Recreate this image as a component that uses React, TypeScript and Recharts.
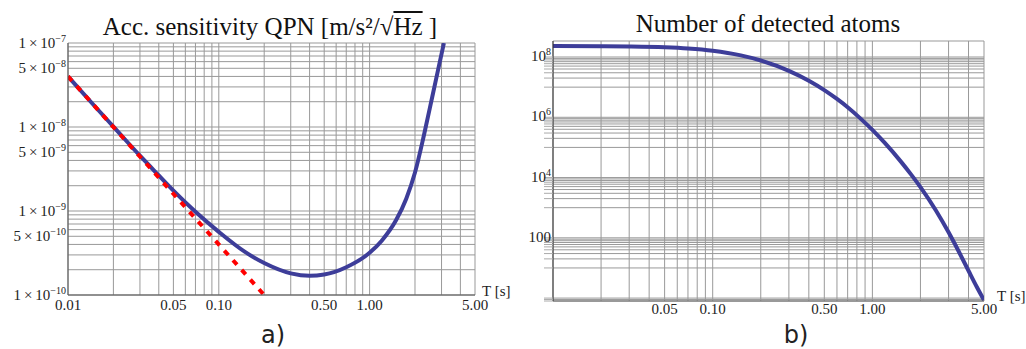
import { LineChart, Line, XAxis, YAxis, CartesianGrid } from 'recharts'

// two log-log panels: a) QPN sensitivity vs T, b) detected atoms vs T

const serif = '"Liberation Serif", "DejaVu Serif", serif'

const xTicks = [
  0.01, 0.02, 0.03, 0.04, 0.05, 0.06, 0.07, 0.08, 0.09,
  0.1, 0.2, 0.3, 0.4, 0.5, 0.6, 0.7, 0.8, 0.9,
  1, 2, 3, 4, 5,
]
const xLabelsA: [number, string][] = [[0.01, '0.01'], [0.05, '0.05'], [0.1, '0.10'], [0.5, '0.50'], [1, '1.00'], [5, '5.00']]
const xLabelsB: [number, string][] = [[0.05, '0.05'], [0.1, '0.10'], [0.5, '0.50'], [1, '1.00'], [5, '5.00']]

const sensTicks = [
  1e-10, 2e-10, 3e-10, 4e-10, 5e-10, 6e-10, 7e-10, 8e-10, 9e-10,
  1e-9, 2e-9, 3e-9, 4e-9, 5e-9, 6e-9, 7e-9, 8e-9, 9e-9,
  1e-8, 2e-8, 3e-8, 4e-8, 5e-8, 6e-8, 7e-8, 8e-8, 9e-8,
  1e-7,
]
const sensLabels: [number, string, string][] = [
  [1e-7, '1', '−7'], [5e-8, '5', '−8'], [1e-8, '1', '−8'], [5e-9, '5', '−9'],
  [1e-9, '1', '−9'], [5e-10, '5', '−10'], [1e-10, '1', '−10'],
]

const atomTicks = [
  0.8, 0.9, 1,
  10, 20, 30, 40, 50, 60, 70, 80, 90, 100,
  1000, 2000, 3000, 4000, 5000, 6000, 7000, 8000, 9000, 1e4,
  1e5, 2e5, 3e5, 4e5, 5e5, 6e5, 7e5, 8e5, 9e5, 1e6,
  1e7, 2e7, 3e7, 4e7, 5e7, 6e7, 7e7, 8e7, 9e7, 1e8,
]
const atomLabels: [number, string, string][] = [[1e8, '10', '8'], [1e6, '10', '6'], [1e4, '10', '4'], [100, '100', '']]

// blue curve, panel a
const sensT = [0.01, 0.015, 0.02, 0.03, 0.04, 0.05, 0.07, 0.1, 0.15, 0.2, 0.3, 0.4, 0.5, 0.7, 1, 1.2, 1.5, 1.75, 2, 2.3, 2.6, 2.85, 3.11]
const sensQpn = [4e-8, 1.78e-8, 1.01e-8, 4.55e-9, 2.65e-9, 1.75e-9, 9.8e-10, 5.65e-10, 3.24e-10, 2.4e-10, 1.81e-10, 1.69e-10, 1.75e-10, 2.14e-10, 3.18e-10, 4.4e-10, 7.8e-10, 1.4e-9, 2.87e-9, 8.2e-9, 2.26e-8, 4.85e-8, 1e-7]

// red dashed T^-2 asymptote
const slopeT = [0.01, 0.2]
const slopeQpn = [4e-8, 1e-10]

// panel b
const atomsT = [0.01, 0.02, 0.03, 0.05, 0.07, 0.1, 0.15, 0.2, 0.3, 0.4, 0.5, 0.6, 0.7, 0.85, 1, 1.2, 1.5, 1.75, 2, 2.5, 3, 3.5, 4, 4.5, 5]
const atomsN = [2.3e8, 2.26e8, 2.22e8, 2.09e8, 1.91e8, 1.61e8, 1.13e8, 7.67e7, 3.48e7, 1.63e7, 7.98e6, 4.05e6, 2.15e6, 8.7e5, 3.82e5, 1.38e5, 3.51e4, 1.25e4, 4810, 807, 152, 32.5, 8.07, 2.38, 0.855]

const sensData = sensT.map((t, i) => ({ t, v: sensQpn[i] }))
const slopeData = slopeT.map((t, i) => ({ t, v: slopeQpn[i] }))
const atomsData = atomsT.map((t, i) => ({ t, n: atomsN[i] }))

function xTick(labels: Map<number, string>, dy: number) {
  return (p: any) => {
    const s = labels.get(p.payload.value)
    if (!s) return <g />
    return (
      <text x={p.x} y={p.y + dy} textAnchor="middle" fontFamily={serif} fontSize={15} fill="#222">{s}</text>
    )
  }
}

function SensTick(p: any) {
  const lab = sensLabels.find(r => r[0] === p.payload.value)
  if (!lab) return <g />
  return (
    <text x={p.x - 2} y={p.y + 5} textAnchor="end" fontFamily={serif} fontSize={15} fill="#222">
      {lab[1]}{'\u2009×\u200910'}<tspan dy={-6} fontSize={10}>{lab[2]}</tspan>
    </text>
  )
}

function AtomTick(p: any) {
  const lab = atomLabels.find(r => r[0] === p.payload.value)
  return (
    <g>
      <line x1={p.x - 9} x2={p.x} y1={p.y} y2={p.y} stroke="#aaa" />
      {lab && (
        <text x={p.x - 2} y={p.y + 4} textAnchor="end" fontFamily={serif} fontSize={15} fill="#222">
          {lab[1]}{lab[2] && <tspan dy={-6} fontSize={10}>{lab[2]}</tspan>}
        </text>
      )}
    </g>
  )
}

const abs = (left: number, top: number, extra: any = {}) => ({ position: 'absolute' as const, left, top, lineHeight: 1, whiteSpace: 'nowrap' as const, ...extra })

export default function App() {
  return (
    <div style={{ position: 'absolute', left: 0, top: 0, width: 1026, height: 349, background: '#fff', overflow: 'hidden' }}>
      <div style={abs(0, 0)}>
        <LineChart width={500} height={349} margin={{ top: 43, right: 25, bottom: 24, left: 0 }}>
          <CartesianGrid stroke="#999" />
          <XAxis dataKey="t" type="number" scale="log" domain={[0.01, 5]} allowDataOverflow ticks={xTicks} interval={0}
            height={30} tickLine={false} tickSize={0} tickMargin={0} axisLine={{ stroke: '#555' }} tick={xTick(new Map(xLabelsA), 15)} />
          <YAxis type="number" scale="log" domain={[1e-10, 1e-7]} allowDataOverflow ticks={sensTicks} interval={0}
            width={68} tickLine={false} tickSize={0} tickMargin={0} axisLine={{ stroke: '#555' }} tick={SensTick} />
          <Line data={sensData} dataKey="v" type="monotone" stroke="#3d3d99" strokeWidth={4} dot={false} isAnimationActive={false} />
          <Line data={slopeData} dataKey="v" type="linear" stroke="#ff0000" strokeWidth={4} strokeDasharray="6 7" dot={false} isAnimationActive={false} />
        </LineChart>
      </div>
      <div style={abs(500, 0)}>
        <LineChart width={526} height={349} margin={{ top: 41, right: 42, bottom: 18, left: 0 }}>
          <CartesianGrid stroke="#999" />
          <XAxis dataKey="t" type="number" scale="log" domain={[0.01, 5]} allowDataOverflow ticks={xTicks} interval={0}
            height={30} tickLine={false} tickSize={0} tickMargin={0} axisLine={{ stroke: '#666' }} tick={xTick(new Map(xLabelsB), 13)} />
          <YAxis type="number" scale="log" domain={[0.8, 3.4e8]} allowDataOverflow ticks={atomTicks} interval={0}
            width={53} tickLine={false} tickSize={0} tickMargin={0} axisLine={{ stroke: '#333' }} tick={AtomTick} />
          <Line data={atomsData} dataKey="n" type="monotone" stroke="#3d3d99" strokeWidth={4} dot={false} isAnimationActive={false} />
        </LineChart>
      </div>

      <div style={abs(70, 14, { width: 400, textAlign: 'center', fontFamily: serif, fontSize: 25, color: '#111' })}>
        Acc. sensitivity QPN [m/s²/√<span style={{ textDecoration: 'overline' }}>Hz</span> ]
      </div>
      <div style={abs(568, 11, { width: 400, textAlign: 'center', fontFamily: serif, fontSize: 25, color: '#111' })}>
        Number of detected atoms
      </div>
      <div style={abs(482, 284, { fontFamily: serif, fontSize: 15, color: '#222' })}>T [s]</div>
      <div style={abs(997, 289, { fontFamily: serif, fontSize: 15, color: '#222' })}>T [s]</div>
      <div style={abs(223, 323, { width: 100, textAlign: 'center', fontFamily: '"DejaVu Sans", sans-serif', fontSize: 24, color: '#222' })}>a)</div>
      <div style={abs(746, 323, { width: 100, textAlign: 'center', fontFamily: '"DejaVu Sans", sans-serif', fontSize: 24, color: '#222' })}>b)</div>
    </div>
  )
}
